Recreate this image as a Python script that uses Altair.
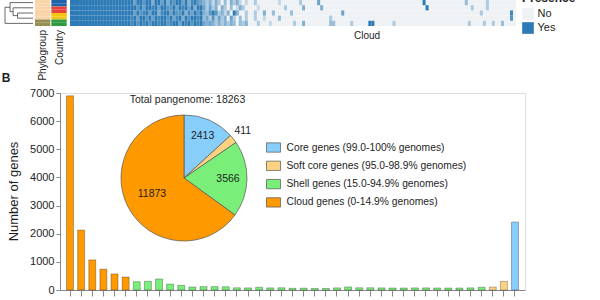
import math
import altair as alt
import pandas as pd

# ---------------- Panel B: gene frequency bars + pie ----------------
classes = [
    "Core genes (99.0-100% genomes)",
    "Soft core genes (95.0-98.9% genomes)",
    "Shell genes (15.0-94.9% genomes)",
    "Cloud genes (0-14.9% genomes)",
]
class_colors = ["#87CEFA", "#FDD381", "#79EF79", "#FF9900"]
pie_values = [2413, 411, 3566, 11873]

cloud_bars = [6900, 2130, 1070, 740, 570, 463]
shell_bars = [295, 310, 390, 210, 165, 105, 120, 120, 115, 80, 75, 95, 75, 80, 60, 65,
              55, 55, 75, 110, 80, 80, 75, 70, 70, 75, 75, 71, 70, 70, 75, 100]
soft_bars = [105, 306]
core_bars = [2413]
y_ticks = [0, 1000, 2000, 3000, 4000, 5000, 6000, 7000]

# ---------------- Panel A fragment: presence/absence heatmap ----------------
# one string per genome row, one character per gene column, digit = share of "Yes"
heat_rows = [
    ("9999999999" "9999999999" "9699799599" "6958799695" "8976" "5352530405" "35202"
     "0030000000" "2000000300" "000" "6" "0000000000" "0000000000" "0000000000" "0000"
     "9" "0000000000" "000" "4" "000000" "3" "000000000"),
    ("9999999999" "9999999999" "9979699896" "9977969896" "9599" "6363505304" "02530"
     "0002000000" "00300000" "5" "00000" "5" "0000000000" "0000000000" "0000000000"
     "0000" "9" "0000000000" "0000" "3" "0000" "3" "000000000"),
    ("9999999999" "9999999999" "9697896995" "8996977958" "6979" "5479735250" "95003"
     "00300" "5" "00" "4" "00000" "4" "0000000000" "000000" "6" "0000000000"
     "0000000000" "0000000000" "0000000000" "00000" "3" "000000000" "8" "0"),
    ("9999999999" "9999999999" "8969979698" "9979689597" "9989" "4637363506" "30403"
     "0030020000" "40000" "000000000000" "3" "0000000000" "0000000000" "0000000000"
     "0000000000" "0000000000" "000000000" "7" "0"),
    ("9999999999" "9999999999" "8979897998" "9978996989" "7989" "6565353535" "40435"
     "0003000200" "00000300" "5" "00000000" "44" "00000" "3" "00000" "99" "000000" "3"
     "0000000000" "0000000000" "0000" "3" "0000" "3" "00" "3" "00" "4" "0000"),
]
presence_levels = ["No", "Yes"]
presence_colors = ["#EFF2F5", "#2C7BB6"]

strip_names = ["Phylogroup", "Country"]
phylogroup_rows = ["P1", "P1", "P1", "P1", "P1", "P1", "P2", "P2"]
country_rows = ["C1", "C1", "C2", "C2", "C3", "C3", "C4", "C4"]
group_levels = ["P1", "P2", "C1", "C2", "C3", "C4"]
group_colors = ["#F9D4A8", "#978F52", "#1F63A8", "#E8433E", "#F3C412", "#2F9B3F"]

# dendrogram segments (x: 0 = root, 1 = leaves; y: leaf rows)
tree_x1 = [0.18, 0.29, 0.45, 0.45, 0.0, 0.45, 0.29, 0.29, 0.18, 0.18, 0.0, 0.0]
tree_x2 = [1.0, 1.0, 1.0, 1.0, 1.0, 0.45, 0.45, 0.29, 0.29, 0.18, 0.18, 0.0]
tree_y1 = [0.5, 1.5, 2.5, 3.5, 4.5, 2.5, 3.0, 1.5, 2.25, 0.5, 1.4, 1.4]
tree_y2 = [0.5, 1.5, 2.5, 3.5, 4.5, 3.5, 3.0, 3.0, 2.25, 2.25, 1.4, 4.5]

FONT = "Liberation Sans"
TXT = "#1e1e1e"

# ---------------- tables ----------------
bar_vals = cloud_bars + shell_bars + soft_bars + core_bars
bar_cls = ([classes[3]] * len(cloud_bars) + [classes[2]] * len(shell_bars)
           + [classes[1]] * len(soft_bars) + [classes[0]] * len(core_bars))
bar_df = pd.DataFrame({"bin": list(range(1, len(bar_vals) + 1)), "genes": bar_vals, "cls": bar_cls})

total = sum(pie_values)
ends = pd.Series(pie_values).cumsum()
pie_df = pd.DataFrame({
    "cls": classes,
    "value": pie_values,
    "label": [str(v) for v in pie_values],
    "start": ends - pd.Series(pie_values),
    "end": ends,
})
pie_df["mid"] = (pie_df["start"] + pie_df["end"]) / 2

n_cols = max(len(s) for s in heat_rows)
recs = []
for r, s in enumerate(heat_rows):
    recs.append(dict(r0=r, r1=r + 1, c0=0, c1=n_cols, presence="No", v=9))
for r, s in enumerate(heat_rows):
    for c, ch in enumerate(s):
        if ch != "0":
            recs.append(dict(r0=r, r1=r + 1, c0=c, c1=c + 1, presence="Yes", v=int(ch)))
heat_df = pd.DataFrame(recs)

strip_recs = []
for name, rows in zip(strip_names, [phylogroup_rows, country_rows]):
    for r, g in enumerate(rows):
        strip_recs.append(dict(strip=name, r0=r, r1=r + 1, group=g))
strip_df = pd.DataFrame(strip_recs)

tree_df = pd.DataFrame({"x1": tree_x1, "x2": tree_x2, "y1": tree_y1, "y2": tree_y2})

# ---------------- layout (plot area = bar chart; the rest placed around it) ----------------
W, H = 465, 197
PAD = {"left": 60, "top": 93, "right": 75, "bottom": 10}
PIE_X, PIE_Y, PIE_R = 124, 85, 63
TOP_Y = [-93, -67]

bars = alt.Chart(bar_df).mark_bar(stroke="black", strokeOpacity=0.35, strokeWidth=0.8).encode(
    x=alt.X("bin:O", scale=alt.Scale(paddingInner=0.37, paddingOuter=0.585),
            axis=alt.Axis(labels=False, title=None, ticks=True, tickSize=6, tickColor="#888",
                          domainColor="#888", grid=False)),
    y=alt.Y("genes:Q", scale=alt.Scale(domain=[0, 7000], nice=False),
            axis=alt.Axis(values=y_ticks, format="d", grid=False, tickSize=4, tickColor="#888",
                          domainColor="#888", labelFontSize=11, labelColor=TXT, labelPadding=2,
                          labelFont=FONT, title="Number of genes", titleFontSize=13,
                          titleFontWeight="normal", titleColor=TXT, titleFont=FONT, titleAngle=270,
                          titleX=-40, titleY=98, titleAlign="center", titleBaseline="bottom")),
    color=alt.Color("cls:N", scale=alt.Scale(domain=classes, range=class_colors), legend=None),
)

theta_scale = alt.Scale(domain=[0, total], range=[0, 2 * math.pi])

pie = alt.Chart(pie_df).mark_arc(radius=PIE_R, stroke="#555", strokeWidth=0.7).encode(
    theta=alt.Theta("start:Q", scale=theta_scale),
    theta2="end:Q",
    color=alt.Color("cls:N", scale=alt.Scale(domain=classes, range=class_colors),
                    legend=alt.Legend(orient="none", legendX=208, legendY=49, title=None,
                                      symbolType="M-1.5,-1H1.5V1H-1.5Z", symbolSize=87,
                                      symbolStrokeColor="#555", symbolStrokeWidth=0.7,
                                      symbolOpacity=1, labelFontSize=10.3, labelColor=TXT,
                                      labelFont=FONT, labelOffset=7.5, rowPadding=5.3,
                                      labelLimit=300, padding=0, direction="vertical")),
    x=alt.value(PIE_X),
    y=alt.value(PIE_Y),
)

label_radii = [46, 75, 44, 36]
pie_labels = [
    alt.Chart(pie_df).transform_filter(alt.datum.cls == c)
    .mark_text(radius=r, fontSize=10.5, color=TXT, font=FONT)
    .encode(theta=alt.Theta("mid:Q", scale=theta_scale, stack=False), text="label:N",
            x=alt.value(PIE_X), y=alt.value(PIE_Y))
    for c, r in zip(classes, label_radii)
]

total_txt = alt.Chart(pd.DataFrame({"t": [f"Total pangenome: {total}"]})).mark_text(
    fontSize=10.5, color=TXT, font=FONT).encode(text="t:N", x=alt.value(127.5), y=alt.value(7))

heat = alt.Chart(heat_df).mark_rect().encode(
    x=alt.X("c0:Q", scale=alt.Scale(domain=[0, n_cols], range=[10, 456], nice=False, zero=False), axis=None),
    x2="c1:Q",
    y=alt.Y("r0:Q", scale=alt.Scale(domain=[0, len(heat_rows)], range=TOP_Y, nice=False, zero=False), axis=None),
    y2="r1:Q",
    color=alt.Color("presence:N", scale=alt.Scale(domain=presence_levels, range=presence_colors),
                    legend=alt.Legend(orient="none", legendX=462, legendY=-100, title="Presence",
                                      titleFontSize=12, titleFontWeight="bold", titleColor=TXT,
                                      titleFont=FONT, titlePadding=3, symbolType="square",
                                      symbolSize=135, symbolStrokeWidth=0, symbolOpacity=1,
                                      labelFontSize=11, labelFont=FONT, labelColor=TXT,
                                      labelOffset=3.5, rowPadding=2, padding=0, direction="vertical")),
    opacity=alt.Opacity("v:Q", scale=alt.Scale(domain=[0, 9], range=[0, 1]), legend=None),
)

strips = alt.Chart(strip_df).mark_rect().encode(
    x=alt.X("strip:N", scale=alt.Scale(domain=strip_names, range=[-25, 6.7], paddingInner=0.06, paddingOuter=0), axis=None),
    y=alt.Y("r0:Q", scale=alt.Scale(domain=[0, len(phylogroup_rows)], range=TOP_Y, nice=False, zero=False), axis=None),
    y2="r1:Q",
    color=alt.Color("group:N", scale=alt.Scale(domain=group_levels, range=group_colors), legend=None),
)

tree = alt.Chart(tree_df).mark_rule(color="#444", strokeWidth=0.8).encode(
    x=alt.X("x1:Q", scale=alt.Scale(domain=[0, 1], range=[-55, -27], nice=False, zero=False), axis=None),
    x2="x2:Q",
    y=alt.Y("y1:Q", scale=alt.Scale(domain=[0, len(heat_rows)], range=TOP_Y, nice=False, zero=False), axis=None),
    y2="y2:Q",
)

def label(text, x, y, size=10, angle=0, align="center", weight="normal"):
    kw = dict(fontSize=size, color=TXT, font=FONT, align=align, baseline="middle", fontWeight=weight)
    if angle:
        kw["angle"] = angle
    return alt.Chart(pd.DataFrame({"t": [text]})).mark_text(**kw).encode(
        text="t:N", x=alt.value(x), y=alt.value(y))

phylo_lbl = label(strip_names[0], -17, -63, size=10, angle=270, align="right")
country_lbl = label(strip_names[1], -0.5, -63, size=10, angle=270, align="right")
cloud_lbl = label("Cloud", 307, -57, size=10)
b_lbl = label("B", -54, -15.5, size=12, weight="bold")

chart = alt.layer(
    bars, pie, *pie_labels, total_txt, heat, strips, tree,
    phylo_lbl, country_lbl, cloud_lbl, b_lbl,
).resolve_scale(
    x="independent", y="independent", color="independent", opacity="independent"
).properties(
    width=W, height=H, padding=PAD, autosize="none", background="white"
).configure_view(stroke=None).configure(font=FONT)

chart.save("out.html", embed_options={"renderer": "svg", "actions": False})
